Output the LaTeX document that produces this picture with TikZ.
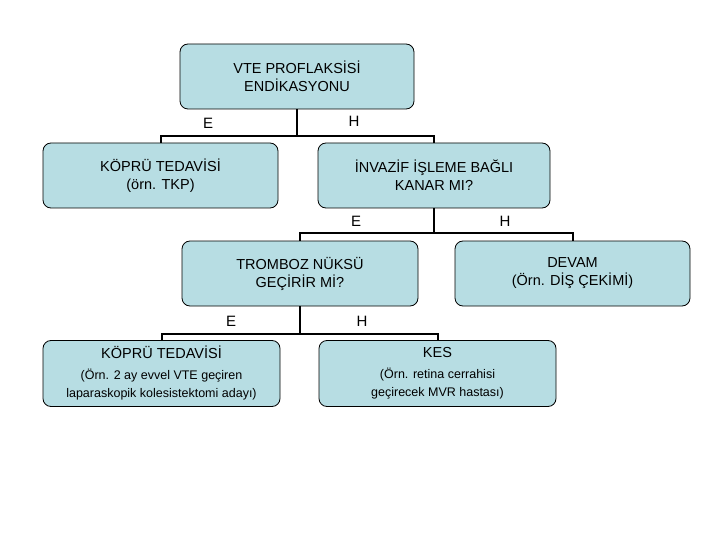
\documentclass[tikz,border=0pt]{standalone}
\usepackage{fontspec}
\setmainfont{Liberation Sans}
\begin{document}
\begin{tikzpicture}[x=1pt,y=-1pt,
 box/.style={draw=black,fill=boxc,rounded corners=8pt,line width=0.8pt,align=center,inner sep=0pt,font=\fontsize{14.5}{18}\selectfont},
 sm/.style={font=\fontsize{12.5}{15}\selectfont},
 con/.style={line width=2pt},
 lab/.style={font=\fontsize{15}{16}\selectfont}]
\definecolor{boxc}{HTML}{B7DDE3}
\useasboundingbox (0,0) rectangle (720,540);
\node[box,minimum width=234pt,minimum height=65pt] (root) at (297,76.5) {VTE PROFLAKSİSİ\\ENDİKASYONU};
\node[box,minimum width=235pt,minimum height=65pt] (k1) at (160.5,175.5) {KÖPRÜ TEDAVİSİ\\(örn. TKP)};
\node[box,minimum width=232pt,minimum height=65pt] (inv) at (434,175.5) {İNVAZİF İŞLEME BAĞLI\\KANAR MI?};
\node[box,minimum width=236pt,minimum height=65pt] (tr) at (300,273.5) {TROMBOZ NÜKSÜ\\GEÇİRİR Mİ?};
\node[box,minimum width=235pt,minimum height=65pt] (dv) at (572.5,273.5) {DEVAM\\(Örn. DİŞ ÇEKİMİ)};
\node[box,minimum width=237pt,minimum height=66pt] (k2) at (161.5,373.5) {KÖPRÜ TEDAVİSİ\\[3pt]{\fontsize{12.5}{15}\selectfont (Örn. 2 ay evvel VTE geçiren}\\{\fontsize{12.5}{15}\selectfont laparaskopik kolesistektomi adayı)}};
\node[box,minimum width=237pt,minimum height=66pt] (kes) at (437.5,373.5) {KES\\[3pt]{\fontsize{12.5}{15}\selectfont (Örn. retina cerrahisi}\\{\fontsize{12.5}{15}\selectfont geçirecek MVR hastası)}};
\coordinate (b1) at (297,136);
\coordinate (b2) at (434,233);
\coordinate (b3) at (300,334);
\draw[con] (root.south) -- (b1);
\draw[con] (k1.north) |- (b1) -| (inv.north);
\draw[con] (inv.south) -- (b2);
\draw[con] (tr.north) |- (b2) -| (dv.north);
\draw[con] (tr.south) -- (b3);
\draw[con] (k2.north) |- (b3) -| (kes.north);
\node[lab] (e1) at (208,123) {E};
\node[lab] (h1) at (354,121) {H};
\node[lab] (e2) at (356,221) {E};
\node[lab] (h2) at (505,221) {H};
\node[lab] (e3) at (231,321) {E};
\node[lab] (h3) at (362,321) {H};
\end{tikzpicture}
\end{document}
